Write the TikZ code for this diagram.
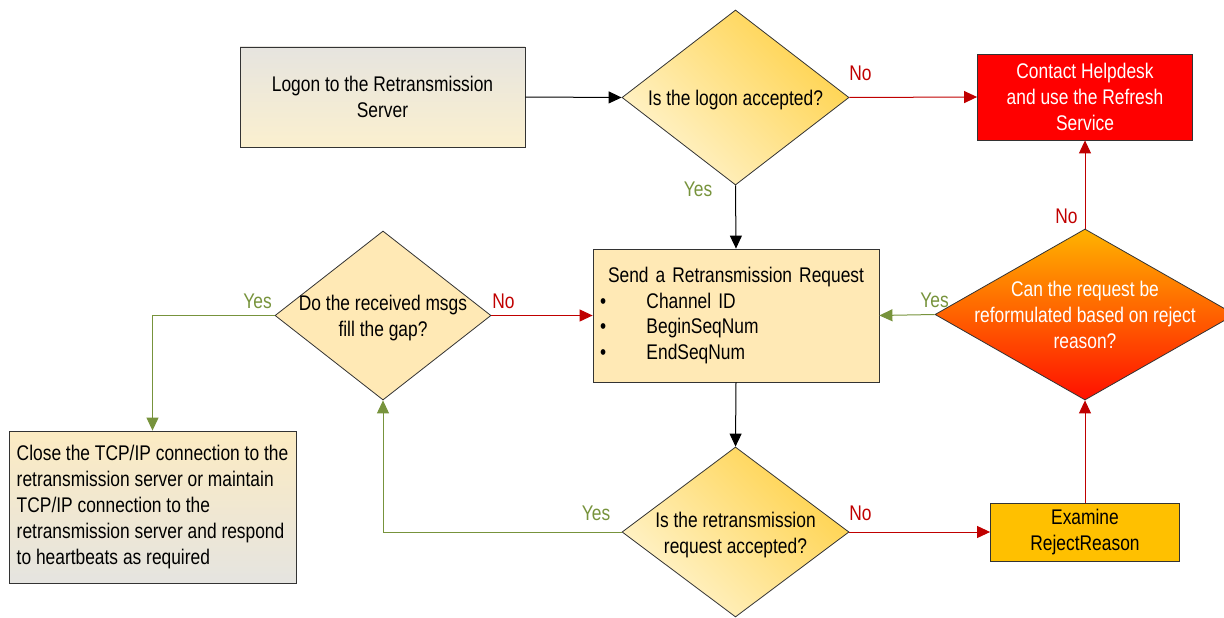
\documentclass[tikz,border=0pt]{standalone}
\usepackage{fontspec}
\setmainfont{Liberation Sans}[FakeStretch=0.82]
\usetikzlibrary{shapes.geometric,arrows.meta}
\definecolor{noRed}{HTML}{C00000}
\definecolor{yesGreen}{HTML}{77933C}
\definecolor{logonTop}{HTML}{E6E4DF}
\definecolor{logonBot}{HTML}{FBF0CF}
\definecolor{closeTop}{HTML}{FCEBC2}
\definecolor{closeBot}{HTML}{E5E4E0}
\definecolor{qDeep}{HTML}{FFD24A}
\definecolor{qLight}{HTML}{FFF4CF}
\definecolor{paleFill}{HTML}{FFE9B5}
\definecolor{helpRed}{HTML}{FF0000}
\definecolor{examFill}{HTML}{FFC000}
\definecolor{refTop}{HTML}{FFB300}
\definecolor{refMid}{HTML}{FF6A00}
\definecolor{refBot}{HTML}{FF1000}
\newcommand\dtext[1]{\makebox[0pt]{\smash{\raisebox{-3pt}{\vbox to 0pt{\vss\hbox{\begin{tabular}{@{}c@{}}#1\end{tabular}}\vss}}}}}
\begin{document}
\begin{tikzpicture}[x=1pt,y=-1pt,
  base/.style={draw=black!80, line width=0.8pt, font=\fontsize{21.2}{25.8}\selectfont},
  box/.style={base, rectangle, align=center, inner sep=0pt},
  dia/.style={base, diamond, inner sep=0pt},
  conn/.style={line width=1pt, -{Triangle[length=13pt,width=12pt]}},
  blk/.style={conn, black},
  nog/.style={conn, noRed},
  yesg/.style={conn, yesGreen},
  lbl/.style={font=\fontsize{21.2}{24}\selectfont, inner sep=0pt, anchor=base},
  nol/.style={lbl, text=noRed},
  yesl/.style={lbl, text=yesGreen},
  qshade/.style={top color=qDeep, bottom color=qLight, shading angle=-45}
]
\path[use as bounding box, clip] (0,0) rectangle (1224,618);

\node[box, minimum width=285pt, minimum height=100pt, top color=logonTop, bottom color=logonBot] (logon) at (382.5,97) {Logon to the Retransmission\\Server};
\node[dia, minimum width=227pt, minimum height=175pt, qshade] (logonq) at (735.5,97.5) {\dtext{Is the logon accepted?}};
\node[box, minimum width=215pt, minimum height=86pt, fill=helpRed, text=white] (help) at (1085,97) {Contact Helpdesk\\and use the Refresh\\Service};
\node[box, align=left, text width=272pt, inner xsep=7pt, minimum height=133pt, fill=paleFill] (send) at (736,315.5)
  {\makebox[272pt]{Send a Retransmission Request}\\
   \makebox[46.5pt][l]{\textbullet}Channel ID\\
   \makebox[46.5pt][l]{\textbullet}BeginSeqNum\\
   \makebox[46.5pt][l]{\textbullet}EndSeqNum};
\node[dia, minimum width=216pt, minimum height=169pt, fill=paleFill] (gap) at (383,315.5) {\dtext{Do the received msgs\\fill the gap?}};
\node[dia, minimum width=300pt, minimum height=171pt, top color=refTop, middle color=refMid, bottom color=refBot, text=white] (reform) at (1085,314.5) {\dtext{Can the request be\\reformulated based on reject\\reason?}};
\node[dia, minimum width=227pt, minimum height=170pt, qshade] (retq) at (735.5,532) {\dtext{Is the retransmission\\request accepted?}};
\node[box, minimum width=189pt, minimum height=58pt, fill=examFill] (exam) at (1085,532) {Examine\\RejectReason};
\node[box, align=left, minimum width=287pt, minimum height=152pt, top color=closeTop, bottom color=closeBot] (close) at (152.5,507)
  {Close the TCP/IP connection to the\\retransmission server or maintain\\TCP/IP connection to the\\retransmission server and respond\\to heartbeats as required};

\draw[blk] (logon.east) -- (logonq.west);
\draw[nog] (logonq.east) -- node[nol, pos=0, xshift=11pt, yshift=17pt] {No} (help.west);
\draw[blk] (logonq.south) -- node[yesl, pos=0, xshift=-37.5pt, yshift=-11pt] {Yes} (send.north);
\draw[blk] (send.south) -- (retq.north);
\draw[nog] (retq.east) -- node[nol, pos=0, xshift=11pt, yshift=12pt] {No} (exam.west);
\draw[yesg] (retq.west) -| node[yesl, pos=0, xshift=-25.5pt, yshift=12pt] {Yes} (gap.south);
\draw[nog] (gap.east) -- node[nol, pos=0, xshift=12pt, yshift=7.5pt] {No} (send.west);
\draw[yesg] (gap.west) -| node[yesl, pos=0, xshift=-17pt, yshift=7.5pt] {Yes} (close.north);
\draw[nog] (exam.north) -- (reform.south);
\draw[nog] (reform.north) -- node[nol, pos=0, xshift=-18.5pt, yshift=5pt] {No} (help.south);
\draw[yesg] (reform.west) -- node[yesl, pos=0, yshift=7pt] {Yes} (send.east);
\end{tikzpicture}
\end{document}
